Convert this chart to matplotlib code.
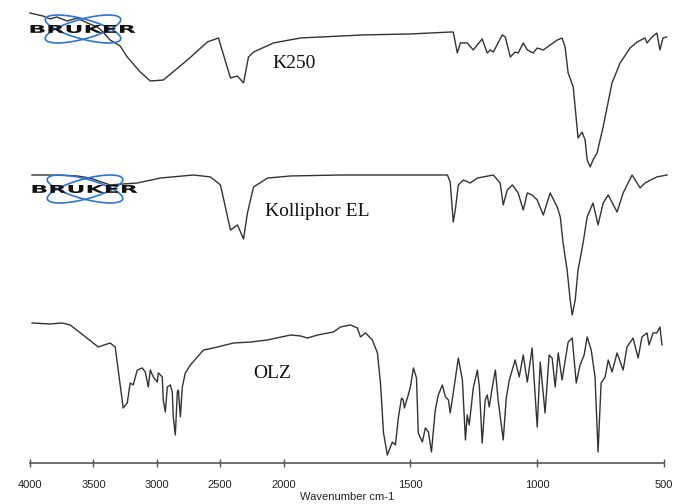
import numpy as np
import matplotlib
matplotlib.use("Agg")
import matplotlib.pyplot as plt
from matplotlib.patches import Ellipse, PathPatch
from matplotlib.textpath import TextPath
from matplotlib.font_manager import FontProperties
from matplotlib.transforms import Affine2D

plt.rcParams["font.family"] = "Liberation Sans"

# FTIR spectra, (wavenumber cm-1, transmittance %)
k250 = [(4000, 100), (3897, 98.1), (3842, 96.3), (3787, 97.5), (3708, 95), (3628, 96.9),
        (3549, 93.8), (3470, 91.3), (3423, 88.1), (3368, 83.1), (3289, 79.4), (3233, 72.5),
        (3130, 63.1), (3051, 57.5), (2949, 58.1), (2759, 70.6), (2601, 81.9), (2514, 84.4),
        (2419, 59.4), (2364, 60.6), (2316, 56.3), (2277, 72.5), (2237, 75.6), (2079, 81.3),
        (1933, 84.4), (1776, 85.6), (1685, 86.3), (1500, 86.9), (1343, 88.1), (1331, 88.1),
        (1315, 75), (1303, 81.3), (1276, 81.3), (1252, 76.9), (1217, 83.8), (1197, 75),
        (1185, 76.9), (1173, 75.6), (1138, 86.3), (1126, 85), (1106, 72.5), (1087, 75.6),
        (1075, 75), (1055, 81.3), (1039, 76.9), (1016, 75), (1000, 78.1), (976, 76.9),
        (921, 83.1), (902, 84.4), (890, 78.8), (878, 62.5), (858, 53.8), (843, 28.8),
        (839, 21.9), (823, 25.6), (811, 20.6), (803, 8.1), (791, 3.8), (780, 8.1),
        (764, 12.5), (740, 28.8), (705, 56.3), (673, 68.8), (634, 78.1), (606, 81.9),
        (575, 84.4), (567, 81.3), (547, 85), (528, 87.5), (516, 76.9), (504, 84.4), (490, 85)]

kolliphor = [(3984, 100), (3842, 100), (3628, 99.4), (3526, 98.1), (3368, 93.8), (3154, 95),
             (2972, 98.1), (2711, 100), (2577, 98.8), (2498, 93.8), (2419, 65.6), (2364, 68.8),
             (2316, 60), (2285, 76.3), (2237, 92.5), (2127, 98.1), (1972, 99.4), (1776, 100),
             (1354, 100), (1343, 95.6), (1331, 70.6), (1323, 78.1), (1311, 93.8), (1291, 96.9),
             (1264, 95), (1236, 98.1), (1173, 100), (1146, 95), (1134, 81.3), (1118, 90.6),
             (1098, 93.8), (1075, 88.8), (1055, 78.1), (1039, 88.8), (1020, 87.5), (1000, 84.4),
             (976, 75), (949, 88.8), (921, 80), (909, 73.8), (898, 57.5), (882, 40.6),
             (870, 21.9), (862, 12.5), (850, 21.9), (839, 40.6), (819, 57.5), (803, 73.8),
             (780, 82.5), (760, 68.8), (740, 82.5), (720, 87.5), (685, 76.9), (661, 88.8),
             (626, 100), (594, 91.9), (575, 95), (528, 98.8), (488, 100)]

olz = [(3984, 100), (3842, 99.4), (3747, 100), (3684, 98.8), (3581, 92.5), (3462, 85),
       (3368, 87.5), (3328, 85), (3304, 70.6), (3265, 46.9), (3233, 50), (3210, 62.5),
       (3186, 61.3), (3154, 70.6), (3115, 71.9), (3091, 69.4), (3067, 60), (3051, 70.6),
       (3028, 66.3), (2996, 63.1), (2988, 68.8), (2957, 66.3), (2949, 51.9), (2933, 44.4),
       (2917, 60), (2893, 61.3), (2878, 56.9), (2870, 41.3), (2854, 30), (2838, 56.9),
       (2830, 58.1), (2814, 41.3), (2799, 60), (2775, 68.8), (2735, 73.8), (2680, 78.8),
       (2632, 83.1), (2553, 84.4), (2395, 87.5), (2261, 88.1), (2127, 89.4), (1972, 92.5),
       (1933, 91.9), (1906, 90.6), (1866, 92.5), (1803, 94.4), (1776, 97.5), (1736, 98.8),
       (1709, 96.9), (1697, 91.3), (1677, 93.8), (1650, 89.4), (1630, 81.3), (1618, 62.5),
       (1606, 31.3), (1591, 17.5), (1579, 22.5), (1571, 25.6), (1559, 23.8), (1547, 41.3),
       (1535, 53.1), (1528, 51.9), (1524, 46.9), (1512, 53.1), (1500, 60), (1488, 71.9),
       (1476, 65.6), (1469, 31.3), (1453, 25.6), (1441, 34.4), (1429, 31.9), (1417, 19.4),
       (1402, 45.6), (1390, 55), (1374, 61.3), (1362, 53.8), (1350, 51.9), (1343, 43.8),
       (1331, 56.3), (1311, 78.1), (1295, 64.4), (1283, 26.9), (1276, 42.5), (1268, 36.3),
       (1252, 59.4), (1236, 70.6), (1228, 60), (1217, 25), (1205, 51.9), (1197, 55),
       (1189, 47.5), (1177, 60), (1165, 70.6), (1154, 51.9), (1134, 26.9), (1122, 53.1),
       (1110, 64.4), (1087, 76.9), (1071, 66.3), (1055, 80), (1039, 63.1), (1020, 84.4),
       (1000, 35), (988, 75.6), (969, 43.8), (953, 80), (941, 78.1), (929, 60),
       (917, 81.3), (902, 64.4), (878, 88.1), (862, 90.6), (846, 62.5), (831, 73.8),
       (815, 80), (803, 91.3), (787, 83.1), (772, 66.3), (760, 19.4), (748, 62.5),
       (732, 66.3), (720, 76.9), (705, 69.4), (685, 81.3), (661, 70.6), (646, 85),
       (622, 90.6), (602, 78.1), (587, 91.3), (567, 93.8), (559, 86.3), (543, 93.8),
       (528, 93.8), (516, 97.5), (508, 86.3)]

names = ["K250", "Kolliphor EL", "OLZ"]
ticks = [4000, 3500, 3000, 2500, 2000, 1500, 1000, 500]

# stacking: vertical offset and scale for each trace
offsets = [290, 128, -20]
yscale = 1.6
# name positions in pixels from the top-left corner
label_pos = [(272, 64), (265, 211), (253, 373)]


# OPUS style axis: above 2000 cm-1 the scale is compressed by half
def fwd(w):
    w = np.asarray(w, dtype=float)
    return np.where(w <= 2000, w, 2000 + (w - 2000) / 2.0)


def inv(u):
    u = np.asarray(u, dtype=float)
    return np.where(u <= 2000, u, 2000 + (u - 2000) * 2.0)


fig = plt.figure(figsize=(6.75, 5.04), dpi=100)
ax = fig.add_axes([30 / 675, 41 / 504, 634 / 675, 463 / 504])
ax.set_xscale("function", functions=(fwd, inv))

for spec, off in zip([k250, kolliphor, olz], offsets):
    wn, T = np.array(spec).T
    ax.plot(wn, off + yscale * T, color="#333333", lw=1.0, clip_on=False,
            solid_joinstyle="round")

ax.set_xlim(4000, 500)
ax.set_ylim(0, 463)
ax.set_xticks(ticks)
ax.set_xticklabels([str(t) for t in ticks])
ax.tick_params(axis="x", direction="inout", length=6, width=1, color="#555555",
               labelsize=8, labelcolor="#222222", pad=9)
ax.set_yticks([])
for s in ["left", "right", "top"]:
    ax.spines[s].set_visible(False)
ax.spines["bottom"].set_color("#555555")
ax.spines["bottom"].set_linewidth(1.2)
ax.set_xlabel("Wavenumber cm-1", fontsize=8, color="#222222", labelpad=2)

# overlay in pixel space for the names and instrument logos
deco = fig.add_axes([0, 0, 1, 1], zorder=3)
deco.set_xlim(0, 675)
deco.set_ylim(504, 0)
deco.axis("off")
deco.patch.set_alpha(0)

for name, (x, y) in zip(names, label_pos):
    deco.text(x, y, name, fontsize=14, family="Liberation Serif", color="#111111",
              ha="left", va="center")


def bruker_logo(cx, cy):
    for ang in (15, -15):
        deco.add_patch(Ellipse((cx, cy), 78, 20, angle=ang, fill=False,
                               ec="#2f74cf", lw=1.2))
    tp = TextPath((0, 0), "BRUKER", size=10,
                  prop=FontProperties(family="DejaVu Sans", weight="bold"))
    bb = tp.get_extents()
    tr = (Affine2D().translate(-bb.x0 - bb.width / 2, -bb.y0 - bb.height / 2)
          .scale(105 / bb.width, -8 / bb.height).translate(cx, cy))
    deco.add_patch(PathPatch(tr.transform_path(tp), fc="#111111", ec="none"))


bruker_logo(83, 29)
bruker_logo(85, 189)

fig.savefig("out.png", dpi=100)
